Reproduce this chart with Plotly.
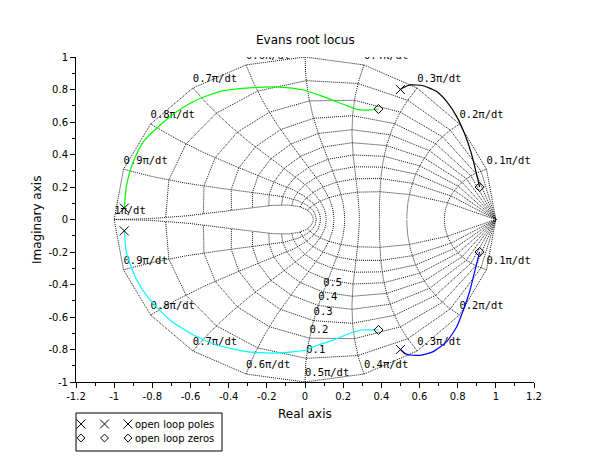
import numpy as np
import plotly.graph_objects as go

# page body has an 8px margin, so the figure is drawn 8px in from the corner
OFF = 8
W, H = 610 - OFF, 460 - OFF

# ---------------- data ----------------
poles_re = [0.5, 0.5, -0.947, -0.947]
poles_im = [0.8, -0.8, 0.07, -0.07]
zeros_re = [0.385, 0.385, 0.915, 0.915]
zeros_im = [0.68, -0.68, 0.2, -0.2]

green_re = [-0.947, -0.935, -0.90, -0.847, -0.76, -0.672, -0.568, -0.446, -0.271, -0.131, -0.009, 0.096, 0.201, 0.271, 0.341, 0.385]
green_im = [0.07, 0.212, 0.356, 0.479, 0.58, 0.663, 0.735, 0.787, 0.811, 0.815, 0.797, 0.756, 0.709, 0.678, 0.674, 0.68]

cyan_re = [-0.947, -0.935, -0.882, -0.812, -0.708, -0.585, -0.463, -0.306, -0.148, 0.009, 0.044, 0.148, 0.236, 0.297, 0.385]
cyan_im = [-0.07, -0.208, -0.372, -0.495, -0.618, -0.711, -0.772, -0.813, -0.822, -0.803, -0.783, -0.742, -0.70, -0.68, -0.68]

black_re = [0.5, 0.515, 0.55, 0.62, 0.69, 0.743, 0.795, 0.839, 0.874, 0.90, 0.915]
black_im = [0.8, 0.811, 0.828, 0.823, 0.787, 0.725, 0.633, 0.52, 0.397, 0.274, 0.2]

blue_re = [0.5, 0.533, 0.603, 0.672, 0.742, 0.795, 0.83, 0.865, 0.891, 0.915]
blue_im = [-0.8, -0.830, -0.836, -0.813, -0.752, -0.66, -0.557, -0.434, -0.311, -0.2]

# z-grid parameters (damping ratios and normalized natural frequencies)
zeta_vals = [0.0, 0.1, 0.2, 0.3, 0.4, 0.5, 0.6, 0.7, 0.8, 0.9]
wn_vals = [0.0, 0.1, 0.2, 0.3, 0.4, 0.5, 0.6, 0.7, 0.8, 0.9, 1.0]
zeta_labels = ["0.1", "0.2", "0.3", "0.4", "0.5"]
wn_labels = ["0.1π/dt", "0.2π/dt", "0.3π/dt", "0.4π/dt", "0.5π/dt",
             "0.6π/dt", "0.7π/dt", "0.8π/dt", "0.9π/dt", "1π/dt"]

x_ticks = [-1.2, -1.0, -0.8, -0.6, -0.4, -0.2, 0.0, 0.2, 0.4, 0.6, 0.8, 1.0, 1.2]
x_ticktext = ["-1.2", "-1", "-0.8", "-0.6", "-0.4", "-0.2", "0", "0.2", "0.4", "0.6", "0.8", "1", "1.2"]
y_ticks = [-1.0, -0.8, -0.6, -0.4, -0.2, 0.0, 0.2, 0.4, 0.6, 0.8, 1.0]
y_ticktext = ["-1", "-0.8", "-0.6", "-0.4", "-0.2", "0", "0.2", "0.4", "0.6", "0.8", "1"]
x_minor = [-1.1, -0.9, -0.7, -0.5, -0.3, -0.1, 0.1, 0.3, 0.5, 0.7, 0.9, 1.1]
y_minor = [-0.9, -0.7, -0.5, -0.3, -0.1, 0.1, 0.3, 0.5, 0.7, 0.9]

# ---------------- layout geometry (pixels in the 610x460 window) ----------------
PL, PR, PT, PB = 76 - OFF, 534 - OFF, 57 - OFF, 382 - OFF
LG_L, LG_R, LG_T, LG_B = 76 - OFF, 222 - OFF, 413 - OFF, 451 - OFF
PX_PER_Y = (PB - PT) / 2.0
LABEL_DY = 3.0 / PX_PER_Y   # lift grid labels a few pixels above their anchor point

def zmap(zeta, wn):
    zeta = np.asarray(zeta, dtype=float)
    wn = np.asarray(wn, dtype=float)
    s = np.pi * wn * (-zeta + 1j * np.sqrt(1 - zeta ** 2))
    return np.exp(s)

GRID_COL = "#151515"
GRID_DASH = "1px,1px"

fig = go.Figure()

# constant damping curves (coarse, sampled at the wn values)
gx, gy = [], []
for zt in zeta_vals:
    pts = zmap(np.full(len(wn_vals), zt), np.array(wn_vals))
    for sign in (1, -1):
        gx += list(pts.real) + [None]
        gy += list(sign * pts.imag) + [None]
fig.add_trace(go.Scatter(x=gx, y=gy, mode="lines", showlegend=False, hoverinfo="skip",
                         line=dict(color=GRID_COL, width=1, dash=GRID_DASH)))

# constant natural-frequency curves
zfine = np.linspace(0, 1, 121)
fx, fy = [], []
for w in wn_vals[1:]:
    pts = zmap(zfine, np.full(len(zfine), w))
    for sign in (1, -1):
        fx += list(pts.real) + [None]
        fy += list(sign * pts.imag) + [None]
fig.add_trace(go.Scatter(x=fx, y=fy, mode="lines", showlegend=False, hoverinfo="skip",
                         line=dict(color=GRID_COL, width=1, dash=GRID_DASH)))

MONO = "DejaVu Sans Mono"
# natural-frequency labels on the unit circle (upper and lower half)
lx, ly, lt = [], [], []
for w, lab in zip(wn_vals[1:], wn_labels):
    p = zmap(0.0, w)
    signs = (1,) if abs(float(p.imag)) < 1e-9 else (1, -1)
    for sign in signs:
        lx.append(float(p.real)); ly.append(float(sign * p.imag) + LABEL_DY); lt.append(lab)
fig.add_trace(go.Scatter(x=lx, y=ly, text=lt, mode="text", textposition="top right",
                         cliponaxis=True, showlegend=False, hoverinfo="skip",
                         textfont=dict(family=MONO, size=10.5, color="black")))

# damping labels (lower half at wn=0.5)
dx, dy = [], []
for lab in zeta_labels:
    p = zmap(float(lab), 0.5)
    dx.append(float(p.real)); dy.append(float(-p.imag) + LABEL_DY)
fig.add_trace(go.Scatter(x=dx, y=dy, text=zeta_labels, mode="text", textposition="top right",
                         cliponaxis=True, showlegend=False, hoverinfo="skip",
                         textfont=dict(family=MONO, size=10.5, color="black")))

# root locus branches
for xs, ys, col in [(green_re, green_im, "#00ff00"), (cyan_re, cyan_im, "#00ffff"),
                    (black_re, black_im, "#000000"), (blue_re, blue_im, "#0000ff")]:
    fig.add_trace(go.Scatter(x=xs, y=ys, mode="lines", showlegend=False, hoverinfo="skip",
                             line=dict(color=col, width=1.2, shape="spline", smoothing=0.6)))

# poles and zeros
fig.add_trace(go.Scatter(x=poles_re, y=poles_im, mode="markers", showlegend=False,
                         marker=dict(symbol="x-thin-open", size=9, color="black",
                                     line=dict(color="black", width=1))))
fig.add_trace(go.Scatter(x=zeros_re, y=zeros_im, mode="markers", showlegend=False,
                         marker=dict(symbol="diamond-open", size=7, color="black",
                                     line=dict(color="black", width=1))))

# manual legend (Scilab style: three marks then text)
leg_x = [5, 28.5, 52]
fig.add_trace(go.Scatter(x=leg_x, y=[27, 27, 27], xaxis="x2", yaxis="y2", mode="markers",
                         showlegend=False, hoverinfo="skip",
                         marker=dict(symbol="x-thin-open", size=9, color="black",
                                     line=dict(color="black", width=1))))
fig.add_trace(go.Scatter(x=leg_x, y=[13, 13, 13], xaxis="x2", yaxis="y2", mode="markers",
                         showlegend=False, hoverinfo="skip",
                         marker=dict(symbol="diamond-open", size=6, color="black",
                                     line=dict(color="black", width=1))))

SANS = "DejaVu Sans"
annotations = [
    dict(text="open loop poles", xref="x2", yref="y2", x=57, y=27, xanchor="left", yanchor="middle",
         showarrow=False, font=dict(family=SANS, size=10, color="black")),
    dict(text="open loop zeros", xref="x2", yref="y2", x=57, y=13, xanchor="left", yanchor="middle",
         showarrow=False, font=dict(family=SANS, size=10, color="black")),
    dict(text="Evans root locus", xref="paper", yref="paper", x=(305 - OFF) / W, y=1 - (40 - OFF) / H,
         xanchor="center", yanchor="middle", showarrow=False,
         font=dict(family=SANS, size=12, color="black")),
    dict(text="Real axis", xref="paper", yref="paper", x=(305 - OFF) / W, y=1 - (414 - OFF) / H,
         xanchor="center", yanchor="middle", showarrow=False,
         font=dict(family=SANS, size=12, color="black")),
    dict(text="Imaginary axis", xref="paper", yref="paper", x=(37 - OFF) / W, y=1 - (220 - OFF) / H,
         xanchor="center", yanchor="middle", showarrow=False, textangle=-90,
         font=dict(family=SANS, size=12, color="black")),
]

shapes = [dict(type="rect", xref="paper", yref="paper",
               x0=LG_L / W, x1=LG_R / W, y0=1 - LG_B / H, y1=1 - LG_T / H,
               line=dict(color="black", width=1), fillcolor="rgba(0,0,0,0)")]

axis_common = dict(showgrid=False, zeroline=False, showline=True, linecolor="black", linewidth=1,
                   ticks="outside", ticklen=5, tickcolor="black", tickwidth=1,
                   tickfont=dict(family=SANS, size=10, color="black"), automargin=False,
                   fixedrange=True)

fig.update_layout(
    width=W, height=H,
    margin=dict(l=0, r=0, t=0, b=0, autoexpand=False),
    paper_bgcolor="white", plot_bgcolor="white",
    showlegend=False,
    xaxis=dict(domain=[PL / W, PR / W], range=[-1.2, 1.2], tickmode="array",
               tickvals=x_ticks, ticktext=x_ticktext, anchor="y",
               minor=dict(tickmode="array", tickvals=x_minor, ticklen=3, ticks="outside",
                          tickcolor="black"),
               **axis_common),
    yaxis=dict(domain=[1 - PB / H, 1 - PT / H], range=[-1, 1], tickmode="array",
               tickvals=y_ticks, ticktext=y_ticktext, anchor="x",
               minor=dict(tickmode="array", tickvals=y_minor, ticklen=3, ticks="outside",
                          tickcolor="black"),
               **axis_common),
    xaxis2=dict(domain=[LG_L / W, LG_R / W], range=[0, LG_R - LG_L], visible=False,
                anchor="y2", fixedrange=True),
    yaxis2=dict(domain=[1 - LG_B / H, 1 - LG_T / H], range=[0, LG_B - LG_T], visible=False,
                anchor="x2", fixedrange=True),
    annotations=annotations,
    shapes=shapes,
)

fig.write_html("out.html")
